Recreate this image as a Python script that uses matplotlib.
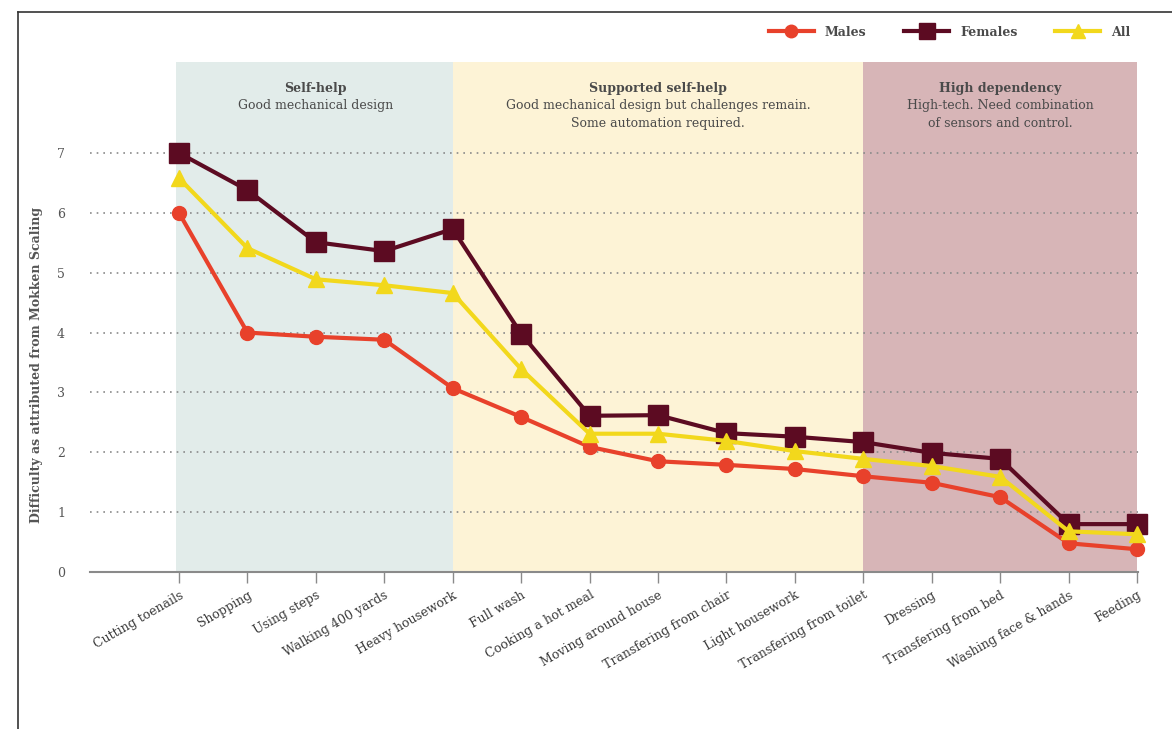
import matplotlib
matplotlib.use("Agg")
import matplotlib.pyplot as plt
from matplotlib.lines import Line2D

# ===================== DATA =====================
activities = [
    "Cutting toenails", "Shopping", "Using steps", "Walking 400 yards",
    "Heavy housework", "Full wash", "Cooking a hot meal", "Moving around house",
    "Transfering from chair", "Light housework", "Transfering from toilet",
    "Dressing", "Transfering from bed", "Washing face & hands", "Feeding",
]
males = [6.0, 4.0, 3.93, 3.88, 3.07, 2.59, 2.09, 1.85, 1.79, 1.72, 1.60, 1.49, 1.25, 0.48, 0.38]
females = [7.0, 6.38, 5.51, 5.36, 5.73, 3.98, 2.61, 2.62, 2.32, 2.26, 2.17, 1.99, 1.89, 0.80, 0.80]
all_people = [6.58, 5.41, 4.89, 4.79, 4.66, 3.39, 2.31, 2.31, 2.19, 2.02, 1.89, 1.77, 1.59, 0.68, 0.63]

region_titles = ["Self-help", "Supported self-help", "High dependency"]
region_texts = [
    "Good mechanical design",
    "Good mechanical design but challenges remain.\nSome automation required.",
    "High-tech. Need combination\nof sensors and control.",
]
region_bounds = [(-0.05, 4), (4, 10), (10, 14)]
region_colors = ["#e2ecea", "#fdf3d6", "#d7b5b7"]

# ===================== STYLE =====================
MALE_C = "#e8412b"
FEMALE_C = "#5c0b22"
ALL_C = "#f2d81c"
TEXT_C = "#4a4a4a"
plt.rcParams["font.family"] = ["DejaVu Serif"]

fig = plt.figure(figsize=(11.72, 7.29), dpi=100)
ax = fig.add_axes([90 / 1172, 1 - 572 / 729, (1138 - 90) / 1172, (572 - 62) / 729])

x = list(range(len(activities)))
ax.set_xlim((90 - 179) / 68.43, (1138 - 179) / 68.43)
ax.set_ylim(0, 8.52)

# background bands + captions
for (a, b), col, title, txt in zip(region_bounds, region_colors, region_titles, region_texts):
    ax.axvspan(a, b, color=col, zorder=0, lw=0)
    cx = (max(a, 0) + b) / 2
    ax.text(cx, 8.08, title, ha="center", va="center", fontsize=9, fontweight="bold", color=TEXT_C)
    ax.text(cx, 7.90, txt, ha="center", va="top", fontsize=9, color=TEXT_C, linespacing=1.5)

# dotted grid
for yv in range(1, 8):
    ax.axhline(yv, color="#8a8a8a", ls=(0, (1, 3)), lw=1.2, zorder=1)

ax.plot(x, males, color=MALE_C, lw=3, marker="o", ms=10, zorder=3, clip_on=False, label="Males")
ax.plot(x, females, color=FEMALE_C, lw=3, marker="s", ms=14, zorder=4, clip_on=False, label="Females")
ax.plot(x, all_people, color=ALL_C, lw=3, marker="^", ms=11, zorder=5, clip_on=False, label="All")

for s in ["top", "right", "left"]:
    ax.spines[s].set_visible(False)
ax.spines["bottom"].set_color("#8a8a8a")
ax.spines["bottom"].set_linewidth(1.5)

ax.set_yticks(range(0, 8))
ax.tick_params(axis="y", length=0, pad=18, labelsize=9, labelcolor="#555555")
ax.set_xticks(x)
ax.set_xticklabels(activities, rotation=30, ha="right", rotation_mode="anchor",
                   fontsize=9, color="#3a3a3a")
ax.tick_params(axis="x", length=8, width=1, color="#8a8a8a", pad=4)

fig.text(37 / 1172, 0.50, "Difficulty as attributed from Mokken Scaling", rotation=90,
         ha="center", va="center", fontsize=9, fontweight="bold", color="#555555")

handles = [
    Line2D([], [], color=MALE_C, lw=3, marker="o", ms=9),
    Line2D([], [], color=FEMALE_C, lw=3, marker="s", ms=12),
    Line2D([], [], color=ALL_C, lw=3, marker="^", ms=10),
]
leg = fig.legend(handles, ["Males", "Females", "All"], loc="center right",
                 bbox_to_anchor=(1142 / 1172, 1 - 32 / 729), ncol=3, frameon=False,
                 handlelength=3.6, handletextpad=0.9, columnspacing=3.0,
                 prop={"weight": "bold", "size": 9})
for t in leg.get_texts():
    t.set_color(TEXT_C)

# frame lines (left and top)
fig.add_artist(Line2D([18 / 1172, 18 / 1172], [0, 1 - 12 / 729], transform=fig.transFigure,
                      color="#333333", lw=1.2))
fig.add_artist(Line2D([18 / 1172, 1], [1 - 12 / 729, 1 - 12 / 729], transform=fig.transFigure,
                      color="#333333", lw=1.2))

fig.savefig("out.png", dpi=100)
